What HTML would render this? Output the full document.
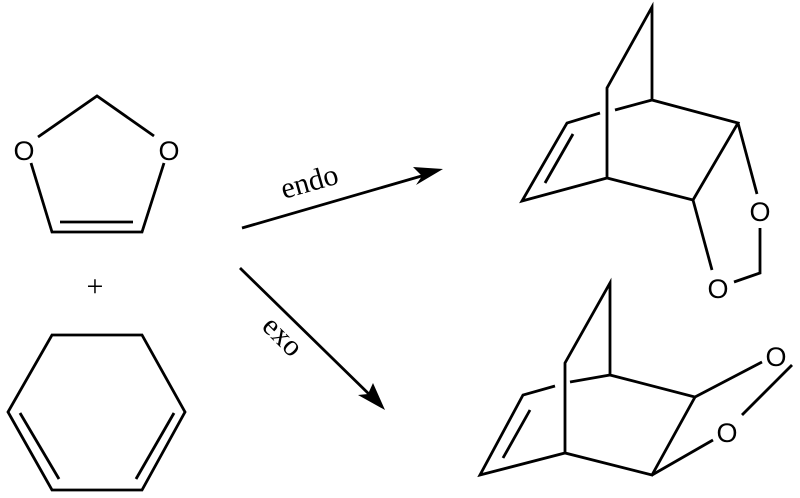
<!DOCTYPE html>
<html><head><style>body{margin:0;background:#fff}svg{display:block}</style></head><body>
<svg width="800" height="498" viewBox="0 0 800 498" xmlns="http://www.w3.org/2000/svg">
<g stroke="#000" stroke-width="2.8" fill="none" stroke-linecap="butt" stroke-linejoin="miter">
<polyline points="38,137 97,96 154,136"/>
<polyline points="31,163 52,232 142,232 164,163"/>
<line x1="60" y1="222" x2="133" y2="222"/>
<polygon points="52,335 142,335 185,412 142,490 52,490 8,412"/>
<line x1="20" y1="413" x2="59" y2="479"/>
<line x1="174" y1="413" x2="136" y2="479"/>
<line x1="242" y1="228" x2="425" y2="175"/>
<line x1="240" y1="268" x2="372" y2="397"/>
<polyline points="607,178 607,88 652,7 652,100 738,123 693,200 607,178 522,201 567,123 600,113"/>
<line x1="615" y1="110" x2="652" y2="100"/>
<line x1="573" y1="134" x2="545" y2="183"/>
<line x1="738" y1="123" x2="757" y2="194"/>
<line x1="693" y1="200" x2="712" y2="270"/>
<polyline points="760,228 760,273 734,282"/>
<polyline points="565,453 565,363 610,283 610,375 695,397 652,475 565,453 480,475 523,395 555,386"/>
<line x1="570" y1="382" x2="610" y2="375"/>
<line x1="530" y1="410" x2="503" y2="458"/>
<line x1="695" y1="397" x2="762" y2="362"/>
<line x1="652" y1="475" x2="713" y2="440"/>
<line x1="792" y1="365" x2="742" y2="415"/>
</g>
<g fill="#000">
<polygon points="443,169 416,185 422,176 413,167"/>
<polygon points="385,410 358,395 368,394 373,383"/>
</g>
<g font-family="Liberation Sans, sans-serif" font-size="27" text-anchor="middle">
<text x="24" y="160">O</text>
<text x="169" y="160">O</text>
<text x="760" y="221">O</text>
<text x="718" y="298">O</text>
<text x="776" y="366">O</text>
<text x="727" y="442">O</text>
</g>
<g font-family="Liberation Serif, serif" font-size="30" text-anchor="middle">
<text x="95" y="296" font-size="30">+</text>
<text transform="translate(312,191) rotate(-16)">endo</text>
<text transform="translate(276,343) rotate(45)">exo</text>
</g>
</svg>
</body></html>
